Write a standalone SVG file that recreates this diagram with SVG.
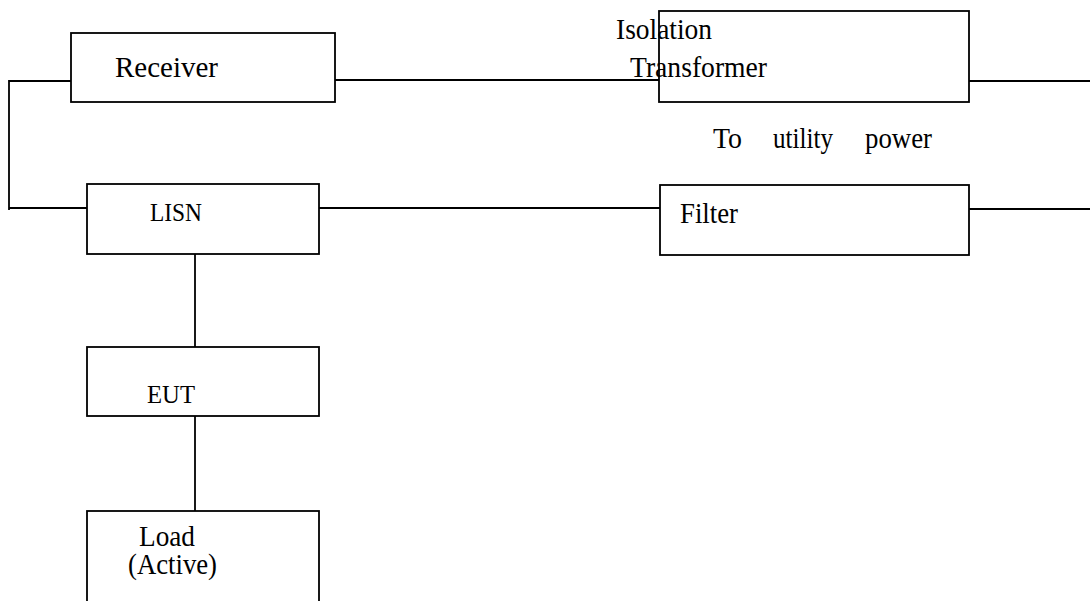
<svg xmlns="http://www.w3.org/2000/svg" width="1090" height="601" viewBox="0 0 1090 601">
<style>
.box{fill:#fff;stroke:#000;stroke-width:1.8}
.ln{fill:none;stroke:#000;stroke-width:1.8}
text{font-family:"Liberation Serif","Times New Roman",serif;fill:#000;font-size:28.5px}
</style>
<rect width="1090" height="601" fill="#fff"/>
<g id="connectors">
<polyline class="ln" points="71,81 9,81 9,210"/>
<line class="ln" x1="9" y1="208" x2="87" y2="208"/>
<line class="ln" x1="335" y1="80" x2="659" y2="80"/>
<line class="ln" x1="969" y1="81" x2="1090" y2="81"/>
<line class="ln" x1="319" y1="208" x2="660" y2="208"/>
<line class="ln" x1="969" y1="209" x2="1090" y2="209"/>
<line class="ln" x1="195" y1="254" x2="195" y2="347"/>
<line class="ln" x1="195" y1="416" x2="195" y2="511"/>
</g>
<g id="receiver">
<rect class="box" x="71" y="33" width="264" height="69"/>
<text x="115" y="77" textLength="103" lengthAdjust="spacingAndGlyphs" style="font-size:29px">Receiver</text>
</g>
<g id="isolation-transformer">
<rect class="box" x="659" y="11" width="310" height="91"/>
<text x="616" y="39" textLength="96" lengthAdjust="spacingAndGlyphs">Isolation</text>
<text x="630" y="77" textLength="137" lengthAdjust="spacingAndGlyphs">Transformer</text>
</g>
<g id="utility-label">
<text x="713" y="148" textLength="29" lengthAdjust="spacingAndGlyphs">To</text>
<text x="773" y="148" textLength="60" lengthAdjust="spacingAndGlyphs">utility</text>
<text x="865" y="148" textLength="67" lengthAdjust="spacingAndGlyphs">power</text>
</g>
<g id="lisn">
<rect class="box" x="87" y="184" width="232" height="70"/>
<text x="150" y="221" textLength="52" lengthAdjust="spacingAndGlyphs" style="font-size:26px">LISN</text>
</g>
<g id="filter">
<rect class="box" x="660" y="185" width="309" height="70"/>
<text x="680" y="223" textLength="58" lengthAdjust="spacingAndGlyphs">Filter</text>
</g>
<g id="eut">
<rect class="box" x="87" y="347" width="232" height="69"/>
<text x="147" y="403" textLength="48" lengthAdjust="spacingAndGlyphs" style="font-size:26px">EUT</text>
</g>
<g id="load">
<rect class="box" x="87" y="511" width="232" height="100"/>
<text x="139" y="546" textLength="56" lengthAdjust="spacingAndGlyphs">Load</text>
<text x="128" y="574" textLength="89" lengthAdjust="spacingAndGlyphs">(Active)</text>
</g>
</svg>
